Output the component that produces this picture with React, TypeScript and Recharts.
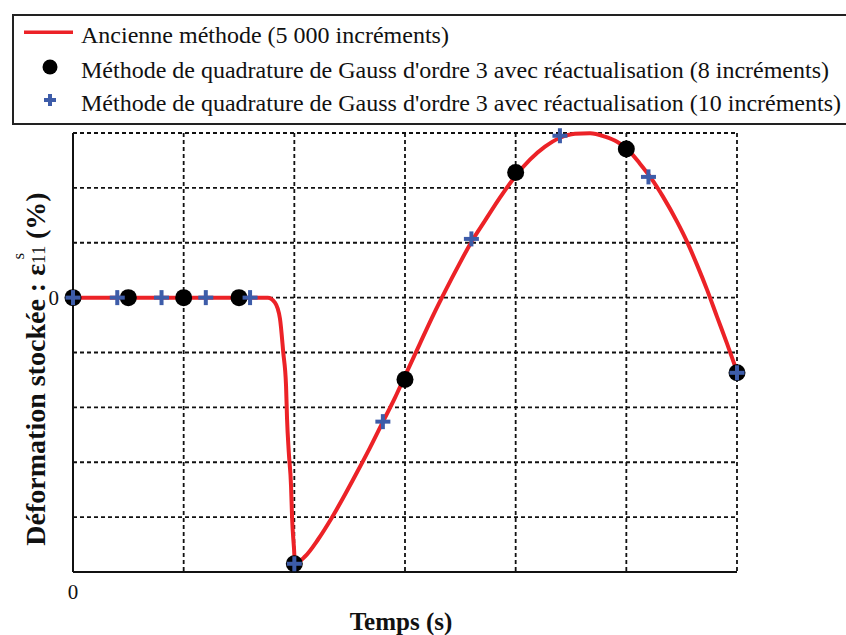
import {
  ComposedChart,
  Line,
  Scatter,
  XAxis,
  YAxis,
  CartesianGrid,
} from "recharts";

const RED = "#ec2227";
const BLUE = "#3d5ca9";
const FONT = "'Liberation Serif', 'Times New Roman', serif";

// x in time units (grid columns), y in grid rows; 0 is the only labelled tick
const X_TICKS = [0, 1, 2, 3, 4, 5, 6];
const Y_TICKS = [-5, -4, -3, -2, -1, 0, 1, 2, 3];

const OLD_X = [
  0, 1.76, 1.825, 1.87, 1.9, 1.925, 1.934, 1.95, 1.97, 1.98, 1.997, 2.006,
  2.096, 2.214, 2.34, 2.458, 2.575, 2.684, 2.792, 2.91, 3.018, 3.135, 3.253, 3.37,
  3.488, 3.596, 3.723, 3.858, 3.994, 4.129, 4.265, 4.401, 4.536, 4.672, 4.807, 4.916,
  5.006, 5.123, 5.214, 5.331, 5.458, 5.548, 5.638, 5.729, 5.819, 5.91, 6.0,
];
const OLD_Y = [
  0, 0, -0.09, -0.38, -1.0, -1.6, -2.2, -2.82, -3.42, -4.03, -4.57, -4.845,
  -4.718, -4.408, -4.007, -3.588, -3.151, -2.732, -2.295, -1.822, -1.348, -0.838, -0.328, 0.146,
  0.601, 1.002, 1.403, 1.822, 2.204, 2.514, 2.75, 2.914, 2.987, 2.995, 2.933, 2.842,
  2.714, 2.441, 2.204, 1.84, 1.384, 1.02, 0.601, 0.146, -0.346, -0.838, -1.348,
];

const GAUSS8_X = [0, 0.5, 1, 1.5, 2, 3, 4, 5, 6];
const GAUSS8_Y = [0, 0, 0, 0, -4.85, -1.49, 2.28, 2.71, -1.37];

const GAUSS10_X = [0, 0.4, 0.8, 1.2, 1.6, 2, 2.8, 3.6, 4.4, 5.2, 6];
const GAUSS10_Y = [0, 0, 0, 0, 0, -4.85, -2.26, 1.07, 2.95, 2.2, -1.37];

const oldData = OLD_X.map((x, i) => ({ x, y: OLD_Y[i] }));
const gauss8Data = GAUSS8_X.map((x, i) => ({ x, y: GAUSS8_Y[i] }));
const gauss10Data = GAUSS10_X.map((x, i) => ({ x, y: GAUSS10_Y[i] }));

const Dot = (props: any) => <circle cx={props.cx} cy={props.cy} r={8.5} fill="#000" />;

const Plus = (props: any) => (
  <g>
    <rect x={props.cx - 7.5} y={props.cy - 2} width={15} height={4} fill={BLUE} />
    <rect x={props.cx - 2} y={props.cy - 7.5} width={4} height={15} fill={BLUE} />
  </g>
);

const zeroOnly = (v: number) => (v === 0 ? "0" : "");

const YLabel = () => (
  <text
    transform="translate(45,369) rotate(-90)"
    textAnchor="middle"
    fontFamily={FONT}
    fontWeight="bold"
    fontSize={28}
    fill="#111"
  >
    Déformation stockée : ε
    <tspan fontSize={19} fontWeight="normal">11</tspan>
    <tspan fontSize={17} fontWeight="normal" dx={-14} dy={-21}>s</tspan>
    <tspan dx={7} dy={21}> (%)</tspan>
  </text>
);

const LEGEND_ITEMS = [
  { label: "Ancienne méthode (5 000 incréments)", kind: "line", y: 43 },
  { label: "Méthode de quadrature de Gauss d'ordre 3 avec réactualisation (8 incréments)", kind: "dot", y: 78 },
  { label: "Méthode de quadrature de Gauss d'ordre 3 avec réactualisation (10 incréments)", kind: "plus", y: 111 },
];

const LegendBox = () => (
  <svg width={846} height={130} style={{ position: "absolute", left: 0, top: 0 }}>
    <rect x={13} y={15} width={860} height={109} fill="none" stroke="#222" strokeWidth={2} />
    {LEGEND_ITEMS.map((item) => (
      <g key={item.kind}>
        {item.kind === "line" && <rect x={24} y={item.y - 12.5} width={49} height={3.5} fill={RED} />}
        {item.kind === "dot" && <circle cx={50} cy={item.y - 11} r={7.5} fill="#000" />}
        {item.kind === "plus" && (
          <g>
            <rect x={44} y={item.y - 13} width={12} height={4} fill={BLUE} />
            <rect x={48} y={item.y - 17} width={4} height={12} fill={BLUE} />
          </g>
        )}
        <text x={81} y={item.y} fontFamily={FONT} fontSize={24} fill="#111">
          {item.label}
        </text>
      </g>
    ))}
  </svg>
);

export default function App() {
  return (
    <div style={{ position: "absolute", left: 0, top: 0, width: 846, height: 635, background: "#fff", overflow: "hidden" }}>
      <ComposedChart
        width={846}
        height={635}
        margin={{ top: 133, right: 109, bottom: 33, left: 43 }}
      >
        <CartesianGrid stroke="#111" strokeDasharray="4 3" strokeWidth={1.8} />
        <XAxis
          dataKey="x"
          type="number"
          domain={[0, 6]}
          ticks={X_TICKS}
          tickFormatter={zeroOnly}
          height={30}
          tickSize={0}
          tickMargin={12}
          axisLine={{ stroke: "#111", strokeWidth: 2 }}
          tick={{ fill: "#111", fontSize: 21, fontFamily: FONT }}
        />
        <YAxis
          dataKey="y"
          type="number"
          domain={[-5, 3]}
          ticks={Y_TICKS}
          tickFormatter={zeroOnly}
          width={30}
          tickSize={0}
          tickMargin={14}
          axisLine={{ stroke: "#111", strokeWidth: 2 }}
          tick={{ fill: "#111", fontSize: 21, fontFamily: FONT }}
        />
        <Line
          data={oldData}
          dataKey="y"
          type="monotone"
          stroke={RED}
          strokeWidth={4}
          dot={false}
          isAnimationActive={false}
        />
        <Scatter data={gauss8Data} dataKey="y" shape={<Dot />} isAnimationActive={false} />
        <Scatter data={gauss10Data} dataKey="y" shape={<Plus />} isAnimationActive={false} />
        <YLabel />
        <text x={401} y={630} textAnchor="middle" fontFamily={FONT} fontWeight="bold" fontSize={25} fill="#111">
          Temps (s)
        </text>
      </ComposedChart>
      <LegendBox />
    </div>
  );
}
